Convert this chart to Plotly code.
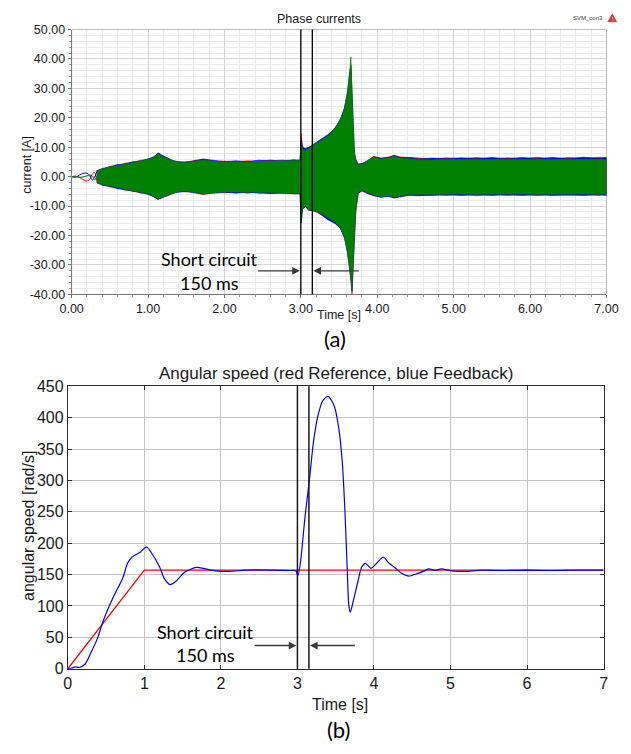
import plotly.graph_objects as go

W, H = 631, 754

# ---------------- (a) phase currents ----------------
# Time grid (s) for the envelopes of the three phase currents
T_ENV = [0.33, 0.40, 0.50, 0.60, 0.70, 0.80, 0.90, 1.00,
         1.08, 1.13, 1.18, 1.25, 1.32, 1.40, 1.50, 1.60,
         1.72, 1.85, 2.00, 2.15, 2.30, 2.45, 2.60, 2.75,
         2.90, 2.99, 3.005, 3.02, 3.06, 3.10, 3.15, 3.23,
         3.35, 3.45, 3.52, 3.57, 3.61, 3.64, 3.655, 3.67,
         3.685, 3.70, 3.72, 3.75, 3.80, 3.87, 3.95, 4.05,
         4.15, 4.22, 4.30, 4.42, 4.55, 4.72, 4.90, 5.10,
         5.30, 5.50, 5.70, 5.90, 6.10, 6.30, 6.50, 6.70,
         6.90, 7.00]

GREEN_HI = [2.0, 2.6, 3.3, 3.8, 4.3, 4.8, 5.3, 5.8,
            6.6, 7.9, 7.0, 6.2, 5.4, 4.9, 4.8, 5.2,
            5.7, 5.3, 5.0, 5.1, 5.0, 5.2, 5.3, 5.2,
            5.4, 5.5, 12.0, 9.5, 8.8, 9.6, 10.6, 11.8,
            13.8, 16.5, 19.5, 23.0, 28.5, 36.0, 40.7, 28.0,
            14.0, 8.0, 5.5, 4.0, 4.2, 5.2, 6.6, 6.0,
            6.3, 7.0, 6.3, 6.1, 5.8, 5.7, 5.9, 5.8,
            5.9, 5.8, 5.9, 5.9, 5.8, 5.9, 5.8, 5.9,
            5.8, 5.8]
GREEN_LO = [-2.0, -2.7, -3.3, -3.9, -4.4, -4.8, -5.3, -5.8,
            -6.8, -7.5, -7.0, -6.3, -5.6, -5.0, -4.9, -5.3,
            -5.8, -5.5, -5.2, -5.3, -5.2, -5.3, -5.4, -5.4,
            -5.6, -5.7, -15.5, -11.0, -9.8, -11.2, -11.3, -12.0,
            -14.0, -15.5, -17.5, -20.5, -25.5, -31.0, -34.5, -38.5,
            -30.0, -20.0, -11.0, -5.5, -4.6, -5.4, -6.2, -6.8,
            -6.4, -7.0, -6.6, -6.1, -6.2, -6.0, -6.0, -5.9,
            -6.0, -5.9, -6.0, -5.9, -6.0, -5.9, -6.0, -5.9,
            -6.0, -5.9]
RED_HI = [2.1, 2.5, 3.5, 3.7, 4.6, 4.7, 5.6, 5.7,
          6.9, 8.0, 7.1, 6.5, 5.3, 5.2, 4.7, 5.5,
          5.9, 5.2, 5.3, 5.0, 5.4, 5.1, 5.7, 5.1,
          5.8, 5.5, 14.7, 10.5, 9.0, 9.5, 10.5, 11.7,
          13.7, 16.8, 19.3, 23.3, 28.3, 35.0, 38.0, 27.0,
          14.5, 8.3, 5.6, 4.3, 4.5, 5.1, 6.9, 6.2,
          6.7, 7.2, 6.7, 6.4, 6.3, 6.0, 6.4, 6.1,
          6.5, 6.0, 6.4, 6.1, 6.6, 6.0, 6.5, 6.2,
          6.6, 6.2]
RED_LO = [-2.2, -2.6, -3.5, -3.8, -4.6, -4.7, -5.6, -5.7,
          -7.0, -7.6, -7.3, -6.2, -5.9, -4.9, -5.2, -5.2,
          -6.1, -5.4, -5.5, -5.2, -5.6, -5.2, -5.8, -5.3,
          -5.9, -5.7, -15.0, -11.2, -9.7, -11.5, -11.2, -12.3,
          -14.3, -15.4, -17.8, -20.4, -25.8, -31.5, -35.0, -40.0,
          -31.0, -20.5, -11.5, -5.8, -4.7, -5.7, -6.3, -7.1,
          -6.5, -7.3, -6.7, -6.4, -6.5, -6.1, -6.4, -6.0,
          -6.5, -6.0, -6.4, -6.0, -6.5, -6.0, -6.3, -6.0,
          -6.4, -6.0]
BLUE_HI = [2.0, 2.8, 3.3, 4.1, 4.3, 5.1, 5.3, 6.1,
           6.7, 8.1, 7.3, 6.3, 5.6, 4.9, 5.1, 5.3,
           6.0, 5.5, 5.1, 5.4, 5.1, 5.6, 5.4, 5.6,
           5.5, 5.7, 12.5, 10.0, 9.6, 9.9, 10.8, 12.2,
           14.2, 16.5, 19.8, 23.2, 28.8, 35.5, 37.5, 28.5,
           14.0, 8.2, 5.8, 4.2, 4.4, 5.4, 6.7, 6.3,
           6.5, 7.3, 6.5, 6.5, 6.0, 6.3, 6.1, 6.4,
           6.1, 6.5, 6.1, 6.5, 6.1, 6.5, 6.1, 6.6,
           6.2, 6.6]
BLUE_LO = [-2.0, -2.9, -3.3, -4.1, -4.4, -5.0, -5.3, -6.1,
           -6.8, -7.8, -7.1, -6.6, -5.6, -5.3, -5.0, -5.5,
           -5.9, -5.7, -5.3, -5.6, -5.3, -5.6, -5.5, -5.7,
           -5.7, -5.9, -15.8, -11.0, -10.2, -11.3, -11.6, -12.1,
           -14.6, -16.0, -17.6, -20.8, -25.6, -31.8, -34.8, -39.0,
           -30.5, -20.2, -11.2, -5.6, -4.9, -5.5, -6.5, -6.9,
           -6.8, -7.1, -6.9, -6.2, -6.4, -6.4, -6.1, -6.4,
           -6.1, -6.4, -6.1, -6.4, -6.1, -6.4, -6.2, -6.4,
           -6.1, -6.4]

# Start-up: the individual phase currents are still visible as lines
T_START = [0.00, 0.05, 0.10, 0.15, 0.20, 0.24, 0.27, 0.30, 0.33]
RED_START = [0.0, 0.2, -0.2, -1.0, -1.5, -0.8, 0.9, 1.4, -1.6]
BLUE_START = [0.0, -0.2, 0.5, 1.1, 1.2, 0.3, -1.2, -0.3, 1.8]
GREEN_START = [0.0, 0.0, -0.3, -0.1, 0.3, 0.5, 0.3, -1.2, 0.2]

A_XTICKS = [0, 1, 2, 3, 4, 5, 6, 7]
A_XLABELS = ["0.00", "1.00", "2.00", "3.00", "4.00", "5.00", "6.00", "7.00"]
A_YTICKS = [-40, -30, -20, -10, 0, 10, 20, 30, 40, 50]
A_YLABELS = ["-40.00", "-30.00", "-20.00", "-10.00", "0.00",
             "10.00", "20.00", "30.00", "40.00", "50.00"]

# ---------------- (b) angular speed ----------------
T_REF = [0.0, 1.0, 7.0]
W_REF = [0.0, 157.0, 157.0]

T_FB = [0.00, 0.05, 0.10, 0.15, 0.23, 0.30, 0.38, 0.465, 0.59, 0.72,
        0.78, 0.84, 0.95, 1.03, 1.085, 1.20, 1.26, 1.335, 1.41, 1.53,
        1.68, 1.80, 1.93, 2.10, 2.31, 2.50, 2.70, 2.90, 2.98, 3.006,
        3.04, 3.10, 3.16, 3.21, 3.27, 3.33, 3.40, 3.48, 3.54, 3.585,
        3.62, 3.65, 3.67, 3.69, 3.73, 3.79, 3.84, 3.89, 3.96, 4.05,
        4.12, 4.19, 4.275, 4.36, 4.455, 4.55, 4.66, 4.715, 4.80, 4.88,
        5.01, 5.18, 5.40, 5.70, 6.00, 6.30, 6.60, 7.00]
W_FB = [0, 1, 3, 2, 8, 25, 46, 77, 113, 145,
        168, 178, 186, 194, 186, 162, 144, 134, 139, 154,
        161.5, 159, 156, 155, 157, 157.5, 157, 156.5, 156, 148,
        170, 243, 305, 362, 404, 427, 434, 419, 383, 331,
        253, 160, 103, 90, 108, 139, 162, 168, 160, 170,
        178, 169, 161, 152, 147.5, 151, 156, 159, 157, 159,
        156, 155, 157, 156.5, 157, 156.5, 157, 157]

B_XTICKS = [0, 1, 2, 3, 4, 5, 6, 7]
B_YTICKS = [0, 50, 100, 150, 200, 250, 300, 350, 400, 450]

# Short-circuit window (s)
SC_START, SC_END = 3.0, 3.15

for arr in (GREEN_HI, GREEN_LO, RED_HI, RED_LO, BLUE_HI, BLUE_LO):
    assert len(arr) == len(T_ENV)
assert len(T_FB) == len(W_FB)

ARIAL = "Liberation Sans, Arial, sans-serif"
CALIBRI = "Lato, Open Sans, sans-serif"

RED, BLUE, GREEN = "#ff0000", "#0000ff", "#008000"


def band(t, hi, lo, color):
    return go.Scatter(
        x=list(t) + list(t)[::-1], y=list(hi) + list(lo)[::-1],
        fill="toself", fillcolor=color, mode="lines",
        line=dict(color=color, width=0.6), hoverinfo="skip",
        showlegend=False, xaxis="x", yaxis="y")


fig = go.Figure()
fig.add_trace(band(T_ENV, RED_HI, RED_LO, RED))
fig.add_trace(band(T_ENV, BLUE_HI, BLUE_LO, BLUE))
fig.add_trace(band(T_ENV, GREEN_HI, GREEN_LO, GREEN))
for vals, col in ((RED_START, RED), (BLUE_START, BLUE), (GREEN_START, GREEN)):
    fig.add_trace(go.Scatter(x=T_START, y=vals, mode="lines",
                             line=dict(color=col, width=1, shape="spline"),
                             showlegend=False, xaxis="x", yaxis="y"))

fig.add_trace(go.Scatter(x=T_REF, y=W_REF, mode="lines",
                         line=dict(color=RED, width=1.3),
                         showlegend=False, xaxis="x2", yaxis="y2"))
fig.add_trace(go.Scatter(x=T_FB, y=W_FB, mode="lines",
                         line=dict(color=BLUE, width=1.2, shape="spline", smoothing=0.7),
                         showlegend=False, xaxis="x2", yaxis="y2"))


def px(xp):
    return xp / W


def py(yp):
    return 1 - yp / H


shapes = []
# light frame around the current plot
shapes.append(dict(type="rect", xref="x domain", yref="y domain", x0=0, x1=1, y0=0, y1=1,
                   line=dict(color="#bdbdbd", width=1), layer="below"))
for t in (SC_START, SC_END):
    shapes.append(dict(type="line", xref="x", yref="y domain", x0=t, x1=t, y0=0, y1=1,
                       line=dict(color="#000000", width=1.3)))
    shapes.append(dict(type="line", xref="x2", yref="y2 domain", x0=t, x1=t, y0=0, y1=1,
                       line=dict(color="#1a1a1a", width=1.5)))
# warning icon next to the model name
shapes.append(dict(type="path", xref="paper", yref="paper",
                   path=f"M {px(619.5)} {py(14)} L {px(628.5)} {py(14)} L {px(624)} {py(6)} Z",
                   fillcolor="#d23c3c", line=dict(color="#b02020", width=0.5)))

ann = []


def text(x, y, s, size, family=ARIAL, angle=0, color="#1a1a1a", xref="paper", yref="paper"):
    ann.append(dict(x=x, y=y, xref=xref, yref=yref, text=s, showarrow=False,
                    textangle=angle, xanchor="center", yanchor="middle",
                    font=dict(family=family, size=size, color=color)))


text(px(319.5), py(11.5), "Phase currents", 12.5)
text(px(599), py(10), "SVM_con3", 6, color="#333333")
text(px(624), py(11), "!", 5, color="#ffffff")
text(px(16), py(160), "current [A]", 12.5, angle=-90)
text(px(340), py(314), "Time [s]", 12.5)
text(px(336), py(338), "(a)", 22, family=CALIBRI, color="#000000")

text(px(337), py(374), "Angular speed (red Reference, blue Feedback)", 17)
text(px(16.5), py(530), "angular speed [rad/s]", 16, angle=-90)
text(px(340.5), py(713), "Time [s]", 16)
text(px(339), py(738), "(b)", 22, family=CALIBRI, color="#000000")

# short-circuit labels and arrows
text(1.81, -28.0, "Short circuit", 18, family=CALIBRI, color="#000000", xref="x", yref="y")
text(1.81, -36.0, "150 ms", 18, family=CALIBRI, color="#000000", xref="x", yref="y")
text(1.80, 59, "Short circuit", 18, family=CALIBRI, color="#000000", xref="x2", yref="y2")
text(1.80, 22, "150 ms", 18, family=CALIBRI, color="#000000", xref="x2", yref="y2")

for xr, yr, yv, left_tail, right_tail in (("x", "y", -32.0, 2.42, 3.78),
                                          ("x2", "y2", 37.0, 2.42, 3.77)):
    for tip, tail in ((SC_START, left_tail), (SC_END, right_tail)):
        ann.append(dict(x=tip, y=yv, ax=tail, ay=yv, xref=xr, yref=yr, axref=xr, ayref=yr,
                        text="", showarrow=True, arrowhead=2, arrowsize=1.1,
                        arrowwidth=1.4, arrowcolor="#3a3a3a", standoff=1))

tick_a = dict(family=ARIAL, size=12.5, color="#1a1a1a")
tick_b = dict(family=ARIAL, size=16, color="#1a1a1a")

fig.update_layout(
    width=W, height=H,
    margin=dict(l=0, r=0, t=0, b=0),
    paper_bgcolor="white", plot_bgcolor="white",
    showlegend=False,
    shapes=shapes, annotations=ann,
    xaxis=dict(domain=[px(62), px(618)], anchor="y", range=[0, 7],
               tickvals=A_XTICKS, ticktext=A_XLABELS, tickfont=tick_a,
               showgrid=True, gridcolor="#d6d6d6", gridwidth=1, zeroline=False,
               showline=True, linecolor="#7a7a7a", linewidth=1,
               ticks="outside", ticklen=3, tickcolor="#7a7a7a",
               minor=dict(dtick=0.2, tick0=0, showgrid=True, gridcolor="#ebebeb",
                          ticks="outside", ticklen=2, tickcolor="#9a9a9a")),
    yaxis=dict(domain=[py(293), py(22)], anchor="x", range=[-40, 50],
               tickvals=A_YTICKS, ticktext=A_YLABELS, tickfont=tick_a,
               showgrid=True, gridcolor="#d6d6d6", gridwidth=1, zeroline=False,
               showline=True, linecolor="#7a7a7a", linewidth=1,
               ticks="outside", ticklen=3, tickcolor="#7a7a7a",
               minor=dict(dtick=2, tick0=0, showgrid=True, gridcolor="#ebebeb",
                          ticks="outside", ticklen=2, tickcolor="#9a9a9a")),
    xaxis2=dict(domain=[px(58), px(615)], anchor="y2", range=[0, 7],
                tickvals=B_XTICKS, tickfont=tick_b,
                showgrid=True, gridcolor="#c4c4c4", gridwidth=1, zeroline=False,
                showline=True, linecolor="#2b2b2b", linewidth=1, mirror="ticks",
                ticks="inside", ticklen=4, tickcolor="#2b2b2b"),
    yaxis2=dict(domain=[py(676), py(387)], anchor="x2", range=[0, 450],
                tickvals=B_YTICKS, tickfont=tick_b,
                showgrid=True, gridcolor="#c4c4c4", gridwidth=1, zeroline=False,
                showline=True, linecolor="#2b2b2b", linewidth=1, mirror="ticks",
                ticks="inside", ticklen=4, tickcolor="#2b2b2b"),
)

fig.write_html("out.html")
